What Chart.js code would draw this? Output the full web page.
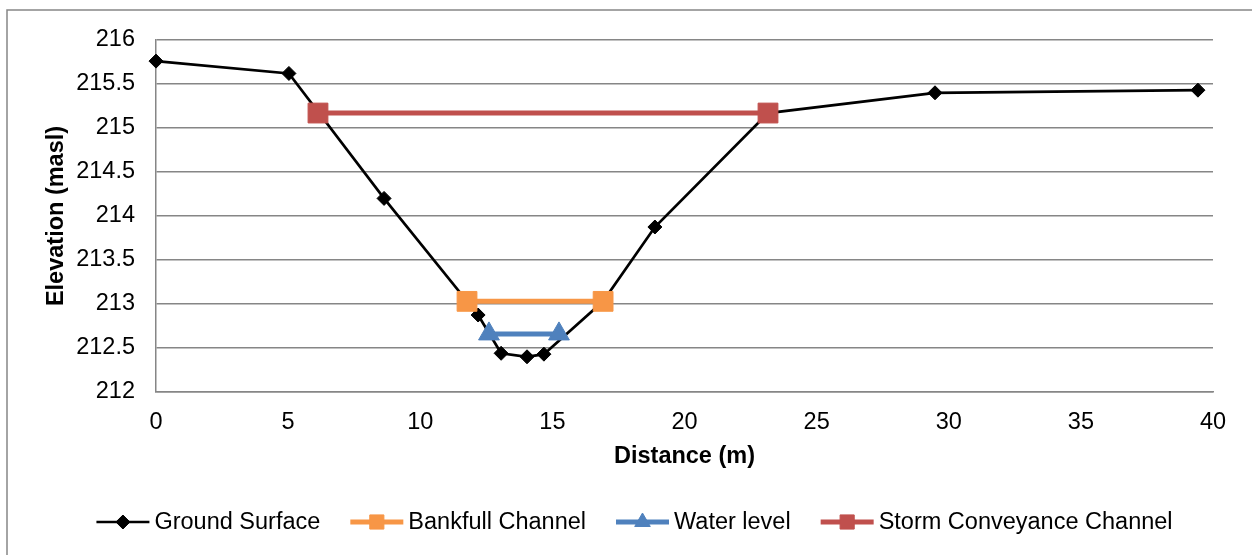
<!DOCTYPE html>
<html>
<head>
<meta charset="utf-8">
<script src="https://cdn.jsdelivr.net/npm/chart.js@4/dist/chart.umd.min.js"></script>
<style>
  html, body { margin: 0; padding: 0; background: #fff; }
  #wrap { width: 1252px; height: 555px; position: relative; }
</style>
</head>
<body>
<div id="wrap"><canvas id="c" width="1252" height="555"></canvas></div>
<script>
// ---- Data ----
const groundX = [0, 5.03, 8.63, 12.19, 13.06, 14.04, 14.68, 16.92, 18.88, 23.16, 29.48, 39.43];
const groundY = [215.76, 215.62, 214.2, 212.875, 212.44, 212.40, 212.43, 213.03, 213.875, 215.17, 215.40, 215.43];
const bankfullX = [11.77, 16.92];
const bankfullY = [213.03, 213.03];
const waterX = [12.60, 15.25];
const waterY = [212.66, 212.66];
const stormX = [6.13, 23.16];
const stormY = [215.17, 215.17];
const seriesNames = ['Ground Surface', 'Bankfull Channel', 'Water level', 'Storm Conveyance Channel'];
const xTitle = 'Distance (m)';
const yTitle = 'Elevation (masl)';
const xMin = 0, xMax = 40, xStep = 5;
const yMin = 212, yMax = 216, yStep = 0.5;

const FONT = '"Liberation Sans", Arial, sans-serif';
const FS = 23.5;
const toPts = (xs, ys) => xs.map((x, i) => ({ x: x, y: ys[i] }));

const frame = {
  id: 'frame',
  beforeDraw(chart) {
    const ctx = chart.ctx;
    ctx.save();
    ctx.fillStyle = '#fff';
    ctx.fillRect(0, 0, chart.width, chart.height);
    ctx.strokeStyle = '#868686';
    ctx.lineWidth = 1.5;
    ctx.strokeRect(7, 10, 1252, 560);
    ctx.restore();
  }
};

function marker(ctx, style, cx, cy, r, color) {
  ctx.fillStyle = color;
  ctx.strokeStyle = color;
  ctx.lineWidth = 1;
  ctx.beginPath();
  if (style === 'rectRot') {
    ctx.moveTo(cx, cy - r); ctx.lineTo(cx + r, cy); ctx.lineTo(cx, cy + r); ctx.lineTo(cx - r, cy);
  } else if (style === 'rect') {
    const s = r * Math.SQRT1_2;
    ctx.rect(cx - s, cy - s, 2 * s, 2 * s);
  } else if (style === 'triangle') {
    const w = r * Math.sqrt(3) / 2;
    ctx.moveTo(cx, cy - r); ctx.lineTo(cx + w, cy + r / 2); ctx.lineTo(cx - w, cy + r / 2);
  }
  ctx.closePath();
  ctx.fill();
  ctx.stroke();
}

const legend = {
  id: 'customLegend',
  afterDraw(chart) {
    const ctx = chart.ctx;
    ctx.save();
    ctx.font = FS + 'px ' + FONT;
    ctx.textBaseline = 'middle';
    const ds = chart.data.datasets;
    const symW = 53, gapST = 5, gapItems = 30;
    const widths = ds.map(d => ctx.measureText(d.label).width);
    let total = 0;
    widths.forEach((w, i) => { total += symW + gapST + w + (i ? gapItems : 0); });
    let x = 634.5 - total / 2;
    const y = 522;
    ds.forEach((d, i) => {
      ctx.strokeStyle = d.borderColor;
      ctx.lineWidth = d.legendLine;
      ctx.beginPath();
      ctx.moveTo(x, y); ctx.lineTo(x + symW, y);
      ctx.stroke();
      marker(ctx, d.pointStyle, x + symW / 2, y, d.legendR, d.borderColor);
      ctx.fillStyle = '#000';
      ctx.fillText(d.label, x + symW + gapST, y + 1);
      x += symW + gapST + widths[i] + gapItems;
    });
    ctx.restore();
  }
};

new Chart(document.getElementById('c'), {
  type: 'scatter',
  data: {
    datasets: [
      { label: seriesNames[0], data: toPts(groundX, groundY), showLine: true, borderColor: '#000000', backgroundColor: '#000000',
        borderWidth: 2.7, pointStyle: 'rectRot', pointRadius: 7, pointBorderWidth: 1, clip: false, legendLine: 2.7, legendR: 7, order: 4 },
      { label: seriesNames[1], data: toPts(bankfullX, bankfullY), showLine: true, borderColor: '#F79646', backgroundColor: '#F79646',
        borderWidth: 5, pointStyle: 'rect', pointRadius: 14, pointBorderWidth: 1, clip: false, legendLine: 5, legendR: 10, order: 3 },
      { label: seriesNames[2], data: toPts(waterX, waterY), showLine: true, borderColor: '#4F81BD', backgroundColor: '#4F81BD',
        borderWidth: 5, pointStyle: 'triangle', pointRadius: 12, pointBorderWidth: 1, clip: false, legendLine: 5, legendR: 9, order: 2 },
      { label: seriesNames[3], data: toPts(stormX, stormY), showLine: true, borderColor: '#C0504D', backgroundColor: '#C0504D',
        borderWidth: 5, pointStyle: 'rect', pointRadius: 14, pointBorderWidth: 1, clip: false, legendLine: 5, legendR: 10, order: 1 }
    ]
  },
  options: {
    responsive: false,
    animation: false,
    devicePixelRatio: 1,
    layout: { padding: { left: 0, top: 40, right: 39, bottom: 63 } },
    plugins: { legend: { display: false }, tooltip: { enabled: false } },
    elements: { line: { tension: 0 } },
    scales: {
      x: {
        type: 'linear', min: xMin, max: xMax,
        afterFit(s) { s.height = 100; },
        ticks: { stepSize: xStep, color: '#000', font: { family: FONT, size: FS }, padding: 16, maxRotation: 0 },
        grid: { display: false, drawTicks: false },
        border: { display: true, color: '#868686', width: 1.5 },
        title: { display: true, text: xTitle, color: '#000', font: { family: FONT, size: FS, weight: 'bold' }, padding: { top: 0, bottom: 21 } }
      },
      y: {
        type: 'linear', min: yMin, max: yMax,
        afterFit(s) { s.width = 156; },
        ticks: { stepSize: yStep, color: '#000', font: { family: FONT, size: FS }, padding: 21,
                 callback: v => String(Math.round(v * 10) / 10) },
        grid: { display: true, drawTicks: false, color: '#868686', lineWidth: 1.5 },
        border: { display: true, color: '#868686', width: 1.5 },
        title: { display: true, text: yTitle, color: '#000', font: { family: FONT, size: FS, weight: 'bold' }, padding: { top: 42, bottom: 0 } }
      }
    }
  },
  plugins: [frame, legend]
});
</script>
</body>
</html>
